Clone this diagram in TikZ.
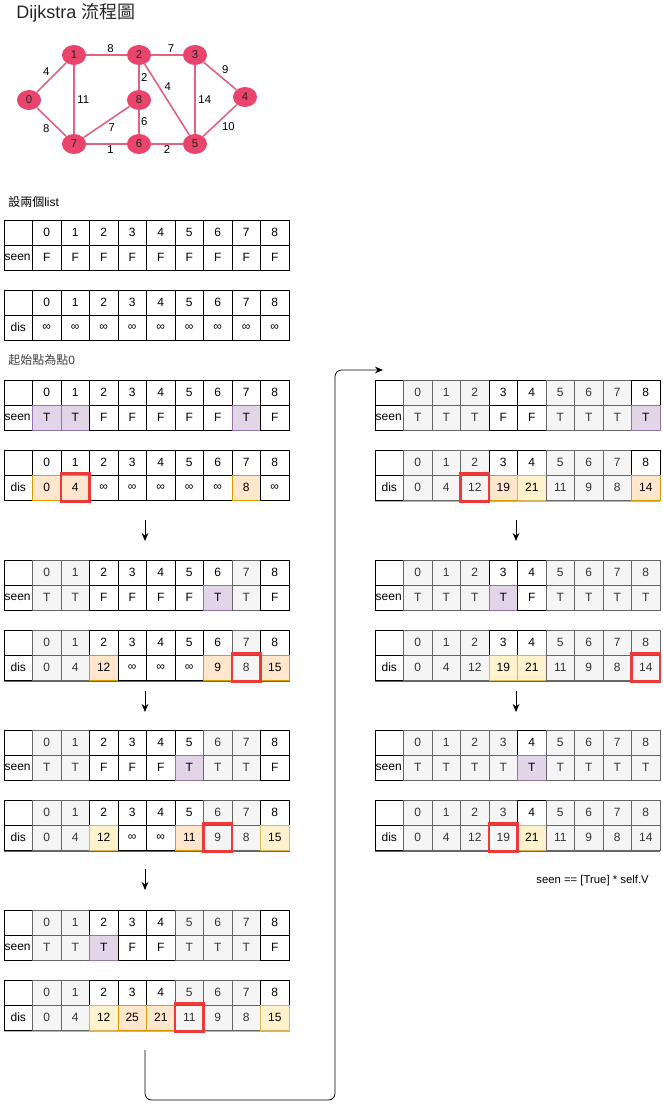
\documentclass[tikz,border=0pt]{standalone}
\usepackage{fontspec}
\setmainfont{Liberation Sans}
\newfontfamily\cjk{Noto Sans CJK TC}
\usepackage{xcolor}
\usetikzlibrary{shapes.geometric, arrows.meta, positioning}

\definecolor{visfill}{HTML}{F5F5F5}
\definecolor{visdraw}{HTML}{666666}
\definecolor{vistext}{HTML}{333333}
\definecolor{curfill}{HTML}{E1D5E7}
\definecolor{curdraw}{HTML}{9673A6}
\definecolor{updfill}{HTML}{FFE6CC}
\definecolor{upddraw}{HTML}{D79B00}
\definecolor{tenfill}{HTML}{FFF2CC}
\definecolor{tendraw}{HTML}{D6B656}
\definecolor{minred}{HTML}{EA3A3A}
\definecolor{vtx}{HTML}{E8446C}
\definecolor{linkcol}{HTML}{E26280}

\begin{document}
\begin{tikzpicture}[
    x=0.75pt, y=-0.75pt,
    >={Stealth[length=6pt, width=5pt]},
    cell/.style={draw, fill=white, minimum width=21.375pt, minimum height=18.75pt, inner sep=0pt, font=\fontsize{9}{11}\selectfont},
    visited/.style={cell, draw=visdraw, fill=visfill, text=vistext},
    current/.style={cell, draw=curdraw, fill=curfill},
    updated/.style={cell, draw=upddraw, fill=updfill},
    tentative/.style={cell, draw=tendraw, fill=tenfill},
    seenlab/.style={cell, text width=20.4pt, inner xsep=0.4pt, align=left},
    minbox/.style={draw=minred, line width=2.2pt, minimum width=21.4pt, minimum height=20.5pt, inner sep=0pt},
    shadowline/.style={line width=1.5pt},
    vertex/.style={ellipse, fill=vtx, minimum width=18pt, minimum height=15pt, inner sep=0pt, font=\fontsize{8.5}{10}\selectfont, text=black!85},
    link/.style={draw=linkcol, line width=1.2pt},
    elab/.style={font=\fontsize{8.5}{10}\selectfont, inner sep=1pt},
    txt/.style={font=\fontsize{9}{11}\selectfont, inner sep=0pt},
    arrow/.style={->, semithick},
  ]
  \useasboundingbox (0,0) rectangle (663,1109);
  % Title
  \node[font=\fontsize{13.5}{16}\selectfont, text=black!85, inner sep=0pt, anchor=west] (title) at (16,13) {Dijkstra {\cjk 流程圖}};
  % Graph
  \node[vertex] (v0) at (29,100) {0};
  \node[vertex] (v1) at (74,55) {1};
  \node[vertex] (v2) at (139,55) {2};
  \node[vertex] (v3) at (195,55) {3};
  \node[vertex] (v4) at (245,97) {4};
  \node[vertex] (v5) at (195,144) {5};
  \node[vertex] (v6) at (139,144) {6};
  \node[vertex] (v7) at (74,144) {7};
  \node[vertex] (v8) at (139,100) {8};
  \draw[link] (v0) -- node[elab, above left] (w01) {4} (v1);
  \draw[link] (v1) -- node[elab, above, xshift=3pt] (w12) {8} (v2);
  \draw[link] (v2) -- node[elab, above, xshift=3pt] (w23) {7} (v3);
  \draw[link] (v3) -- node[elab, above right] (w34) {9} (v4);
  \draw[link] (v1) -- node[elab, right, xshift=1pt] (w17) {11} (v7);
  \draw[link] (v2) -- node[elab, right] (w28) {2} (v8);
  \draw[link] (v2) -- node[elab, above right, pos=0.4] (w25) {4} (v5);
  \draw[link] (v3) -- node[elab, right, xshift=1pt] (w35) {14} (v5);
  \draw[link] (v8) -- node[elab, below right] (w87) {7} (v7);
  \draw[link] (v8) -- node[elab, right] (w86) {6} (v6);
  \draw[link] (v0) -- node[elab, below left] (w07) {8} (v7);
  \draw[link] (v7) -- node[elab, below, xshift=3pt, inner sep=0.5pt] (w76) {1} (v6);
  \draw[link] (v6) -- node[elab, below, inner sep=0.5pt] (w65) {2} (v5);
  \draw[link] (v4) -- node[elab, below right] (w45) {10} (v5);

  % Step 0: two lists
  \node[txt, anchor=west] (note-init) at (8,202) {{\cjk 設兩個}list};
  \node[cell] (t1sh-l) at (18.25,232.5) {};
  \node[seenlab] (t1sv-l) at (18.25,257.5) {seen};
  \node[cell] (t1dh-l) at (18.25,302.5) {};
  \node[cell] (t1dv-l) at (18.25,327.5) {dis};
  \foreach \i in {0,...,8} {
    \node[cell] (t1sh-\i) at (46.75+28.5*\i,232.5) {\i};
    \node[cell] (t1sv-\i) at (46.75+28.5*\i,257.5) {F};
    \node[cell] (t1dh-\i) at (46.75+28.5*\i,302.5) {\i};
    \node[cell] (t1dv-\i) at (46.75+28.5*\i,327.5) {∞};
  }

  % Step 1: start at 0
  \node[txt, anchor=west, text=black!75] (note-start) at (8,360) {{\cjk 起始點為點}0};
  \node[cell] (t2sh-l) at (18.25,392.5) {};
  \node[seenlab] (t2sv-l) at (18.25,417.5) {seen};
  \node[cell] (t2dh-l) at (18.25,462.5) {};
  \node[cell] (t2dv-l) at (18.25,487.5) {dis};
  \foreach \i in {0,...,8} {
    \node[cell] (t2sh-\i) at (46.75+28.5*\i,392.5) {\i};
    \node[cell] (t2dh-\i) at (46.75+28.5*\i,462.5) {\i};
  }
  \foreach \i/\st/\v in {0/current/T,1/current/T,2/cell/F,3/cell/F,4/cell/F,5/cell/F,6/cell/F,7/current/T,8/cell/F}
    \node[\st] (t2sv-\i) at (46.75+28.5*\i,417.5) {\v};
  \foreach \i/\st/\v in {0/updated/0,1/updated/4,2/cell/∞,3/cell/∞,4/cell/∞,5/cell/∞,6/cell/∞,7/updated/8,8/cell/∞}
    \node[\st] (t2dv-\i) at (46.75+28.5*\i,487.5) {\v};
  \node[minbox] (t2-min) at (t2dv-1) {};

  \coordinate (a1-top) at (145,520);
  \coordinate (a1-bot) at (145,541);
  \draw[arrow] (a1-top) -- (a1-bot);

  % Step 2
  \draw[shadowline, visdraw] (4,681) -- (290,681);
  \node[cell] (t3sh-l) at (18.25,572.5) {};
  \node[seenlab] (t3sv-l) at (18.25,597.5) {seen};
  \node[cell] (t3dh-l) at (18.25,642.5) {};
  \node[cell] (t3dv-l) at (18.25,667.5) {dis};
  \foreach \i/\st in {0/visited,1/visited,2/cell,3/cell,4/cell,5/cell,6/cell,7/visited,8/cell} {
    \node[\st] (t3sh-\i) at (46.75+28.5*\i,572.5) {\i};
    \node[\st] (t3dh-\i) at (46.75+28.5*\i,642.5) {\i};
  }
  \foreach \i/\st/\v in {0/visited/T,1/visited/T,2/cell/F,3/cell/F,4/cell/F,5/cell/F,6/current/T,7/visited/T,8/cell/F}
    \node[\st] (t3sv-\i) at (46.75+28.5*\i,597.5) {\v};
  \foreach \i/\st/\v in {0/visited/0,1/visited/4,2/updated/12,3/cell/∞,4/cell/∞,5/cell/∞,6/updated/9,7/visited/8,8/updated/15}
    \node[\st] (t3dv-\i) at (46.75+28.5*\i,667.5) {\v};
  \node[minbox] (t3-min) at (t3dv-7) {};

  \coordinate (a2-top) at (145,691);
  \coordinate (a2-bot) at (145,712);
  \draw[arrow] (a2-top) -- (a2-bot);

  % Step 3
  \draw[shadowline, visdraw] (4,851) -- (290,851);
  \node[cell] (t4sh-l) at (18.25,742.5) {};
  \node[seenlab] (t4sv-l) at (18.25,767.5) {seen};
  \node[cell] (t4dh-l) at (18.25,812.5) {};
  \node[cell] (t4dv-l) at (18.25,837.5) {dis};
  \foreach \i/\st in {0/visited,1/visited,2/cell,3/cell,4/cell,5/cell,6/visited,7/visited,8/cell} {
    \node[\st] (t4sh-\i) at (46.75+28.5*\i,742.5) {\i};
    \node[\st] (t4dh-\i) at (46.75+28.5*\i,812.5) {\i};
  }
  \foreach \i/\st/\v in {0/visited/T,1/visited/T,2/cell/F,3/cell/F,4/cell/F,5/current/T,6/visited/T,7/visited/T,8/cell/F}
    \node[\st] (t4sv-\i) at (46.75+28.5*\i,767.5) {\v};
  \foreach \i/\st/\v in {0/visited/0,1/visited/4,2/tentative/12,3/cell/∞,4/cell/∞,5/updated/11,6/visited/9,7/visited/8,8/tentative/15}
    \node[\st] (t4dv-\i) at (46.75+28.5*\i,837.5) {\v};
  \node[minbox] (t4-min) at (t4dv-6) {};

  \coordinate (a3-top) at (145,869);
  \coordinate (a3-bot) at (145,890);
  \draw[arrow] (a3-top) -- (a3-bot);

  % Step 4
  \draw[shadowline, tendraw] (4,1031) -- (290,1031);
  \node[cell] (t5sh-l) at (18.25,922.5) {};
  \node[seenlab] (t5sv-l) at (18.25,947.5) {seen};
  \node[cell] (t5dh-l) at (18.25,992.5) {};
  \node[cell] (t5dv-l) at (18.25,1017.5) {dis};
  \foreach \i/\st in {0/visited,1/visited,2/cell,3/cell,4/cell,5/visited,6/visited,7/visited,8/cell} {
    \node[\st] (t5sh-\i) at (46.75+28.5*\i,922.5) {\i};
    \node[\st] (t5dh-\i) at (46.75+28.5*\i,992.5) {\i};
  }
  \foreach \i/\st/\v in {0/visited/T,1/visited/T,2/current/T,3/cell/F,4/cell/F,5/visited/T,6/visited/T,7/visited/T,8/cell/F}
    \node[\st] (t5sv-\i) at (46.75+28.5*\i,947.5) {\v};
  \foreach \i/\st/\v in {0/visited/0,1/visited/4,2/tentative/12,3/updated/25,4/updated/21,5/visited/11,6/visited/9,7/visited/8,8/tentative/15}
    \node[\st] (t5dv-\i) at (46.75+28.5*\i,1017.5) {\v};
  \node[minbox] (t5-min) at (t5dv-5) {};

  % back to the top of the right column
  \coordinate (back-start) at (145,1050);
  \coordinate (back-end) at (383,370);
  \draw[arrow, rounded corners=5pt] (back-start) |- (335,1100) -- (335,370) -- (back-end);

  % Step 5
  \draw[shadowline, tendraw] (375,501) -- (660,501);
  \node[cell] (t6sh-l) at (389.25,392.5) {};
  \node[seenlab] (t6sv-l) at (389.25,417.5) {seen};
  \node[cell] (t6dh-l) at (389.25,462.5) {};
  \node[cell] (t6dv-l) at (389.25,487.5) {dis};
  \foreach \i/\st in {0/visited,1/visited,2/visited,3/cell,4/cell,5/visited,6/visited,7/visited,8/cell} {
    \node[\st] (t6sh-\i) at (417.75+28.5*\i,392.5) {\i};
    \node[\st] (t6dh-\i) at (417.75+28.5*\i,462.5) {\i};
  }
  \foreach \i/\st/\v in {0/visited/T,1/visited/T,2/visited/T,3/cell/F,4/cell/F,5/visited/T,6/visited/T,7/visited/T,8/current/T}
    \node[\st] (t6sv-\i) at (417.75+28.5*\i,417.5) {\v};
  \foreach \i/\st/\v in {0/visited/0,1/visited/4,2/visited/12,3/updated/19,4/tentative/21,5/visited/11,6/visited/9,7/visited/8,8/updated/14}
    \node[\st] (t6dv-\i) at (417.75+28.5*\i,487.5) {\v};
  \node[minbox] (t6-min) at (t6dv-2) {};

  \coordinate (a4-top) at (516,520);
  \coordinate (a4-bot) at (516,541);
  \draw[arrow] (a4-top) -- (a4-bot);

  % Step 6
  \draw[shadowline, visdraw] (375,681) -- (660,681);
  \node[cell] (t7sh-l) at (389.25,572.5) {};
  \node[seenlab] (t7sv-l) at (389.25,597.5) {seen};
  \node[cell] (t7dh-l) at (389.25,642.5) {};
  \node[cell] (t7dv-l) at (389.25,667.5) {dis};
  \foreach \i/\st in {0/visited,1/visited,2/visited,3/cell,4/cell,5/visited,6/visited,7/visited,8/visited} {
    \node[\st] (t7sh-\i) at (417.75+28.5*\i,572.5) {\i};
    \node[\st] (t7dh-\i) at (417.75+28.5*\i,642.5) {\i};
  }
  \foreach \i/\st/\v in {0/visited/T,1/visited/T,2/visited/T,3/current/T,4/cell/F,5/visited/T,6/visited/T,7/visited/T,8/visited/T}
    \node[\st] (t7sv-\i) at (417.75+28.5*\i,597.5) {\v};
  \foreach \i/\st/\v in {0/visited/0,1/visited/4,2/visited/12,3/tentative/19,4/tentative/21,5/visited/11,6/visited/9,7/visited/8,8/visited/14}
    \node[\st] (t7dv-\i) at (417.75+28.5*\i,667.5) {\v};
  \node[minbox] (t7-min) at (t7dv-8) {};

  \coordinate (a5-top) at (516,691);
  \coordinate (a5-bot) at (516,712);
  \draw[arrow] (a5-top) -- (a5-bot);

  % Step 7
  \draw[shadowline, visdraw] (375,851) -- (660,851);
  \node[cell] (t8sh-l) at (389.25,742.5) {};
  \node[seenlab] (t8sv-l) at (389.25,767.5) {seen};
  \node[cell] (t8dh-l) at (389.25,812.5) {};
  \node[cell] (t8dv-l) at (389.25,837.5) {dis};
  \foreach \i/\st in {0/visited,1/visited,2/visited,3/visited,4/cell,5/visited,6/visited,7/visited,8/visited} {
    \node[\st] (t8sh-\i) at (417.75+28.5*\i,742.5) {\i};
    \node[\st] (t8dh-\i) at (417.75+28.5*\i,812.5) {\i};
  }
  \foreach \i/\st/\v in {0/visited/T,1/visited/T,2/visited/T,3/visited/T,4/current/T,5/visited/T,6/visited/T,7/visited/T,8/visited/T}
    \node[\st] (t8sv-\i) at (417.75+28.5*\i,767.5) {\v};
  \foreach \i/\st/\v in {0/visited/0,1/visited/4,2/visited/12,3/visited/19,4/tentative/21,5/visited/11,6/visited/9,7/visited/8,8/visited/14}
    \node[\st] (t8dv-\i) at (417.75+28.5*\i,837.5) {\v};
  \node[minbox] (t8-min) at (t8dv-3) {};

  \node[txt, anchor=east, font=\fontsize{8.5}{10}\selectfont] (note-end) at (649,881) {seen == [True] * self.V};
\end{tikzpicture}
\end{document}
